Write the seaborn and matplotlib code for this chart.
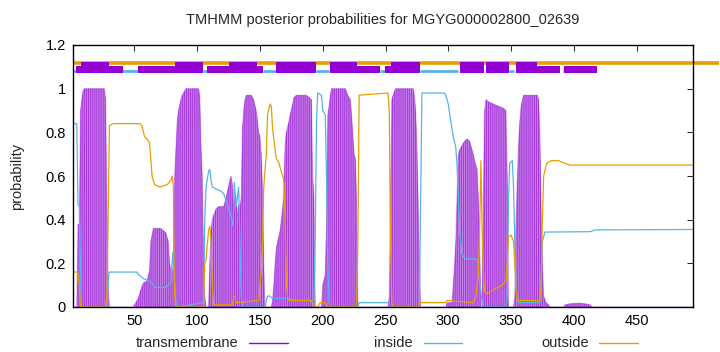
import matplotlib
matplotlib.use("Agg")
import matplotlib.pyplot as plt
from matplotlib.lines import Line2D
from matplotlib.ticker import FormatStrFormatter
import numpy as np
import pandas as pd
import seaborn as sns

seq_len = 495
title = "TMHMM posterior probabilities for MGYG000002800_02639"

# posterior curves, (residue, probability)
inside_pts = [
    (1, 0.84), (4, 0.84), (5, 0.47), (6, 0.46), (7.5, 0.03), (8, 0.0), (28, 0.0),
    (29.5, 0.15), (30, 0.16), (52, 0.16), (53, 0.15), (57, 0.13), (62, 0.12),
    (64, 0.11), (66, 0.09), (75, 0.09), (79, 0.11), (80.5, 0.25), (81, 0.2),
    (82, 0.12), (83, 0.02), (84, 0.0), (105, 0.02), (106, 0.4), (107, 0.55),
    (109, 0.62), (110, 0.63), (111, 0.58), (112, 0.55), (115, 0.54), (119, 0.53),
    (121, 0.52), (124, 0.47), (127, 0.41), (128.5, 0.37), (129.5, 0.57),
    (131, 0.46), (133, 0.55), (134, 0.3), (135, 0.05), (136, 0.0), (154, 0.0),
    (156, 0.05), (158, 0.05), (160, 0.04), (170, 0.04), (180, 0.03), (193, 0.03),
    (194, 0.3), (195, 0.85), (196, 0.98), (199, 0.97), (200, 0.9), (202, 0.88),
    (203, 0.6), (204, 0.2), (205, 0.02), (206, 0.0), (228, 0.0), (229, 0.02),
    (252, 0.02), (254, 0.0), (277, 0.0), (278, 0.5), (279, 0.98), (297, 0.98),
    (298, 0.97), (299, 0.95), (300, 0.93), (302, 0.85), (304, 0.78), (306, 0.73),
    (307, 0.65), (309, 0.35), (311, 0.24), (314, 0.22), (323, 0.22), (325, 0.12),
    (327, 0.02), (328, 0.0), (346, 0.0), (347, 0.05), (348, 0.5), (349, 0.66),
    (351, 0.67), (352, 0.55), (353, 0.3), (354, 0.1), (355, 0.03), (356, 0.02),
    (373, 0.02), (374, 0.15), (375, 0.3), (377, 0.343), (413, 0.345),
    (417, 0.353), (495, 0.355),
]

outside_pts = [
    (1, 0.16), (4.5, 0.16), (5, 0.15), (6, 0.1), (7, 0.0), (27, 0.0), (28, 0.05),
    (29, 0.4), (30, 0.83), (33, 0.84), (54, 0.84), (56, 0.83), (58, 0.78),
    (60, 0.77), (62, 0.75), (64, 0.6), (66, 0.56), (70, 0.55), (76, 0.56),
    (79, 0.58), (80, 0.6), (81, 0.55), (81.5, 0.2), (82, 0.05), (83, 0.0),
    (105, 0.0), (106, 0.2), (107, 0.22), (109, 0.35), (110, 0.37), (111, 0.3),
    (112, 0.1), (113, 0.01), (128, 0.01), (129, 0.05), (130, 0.05), (131, 0.02),
    (149, 0.03), (150, 0.1), (151, 0.17), (152, 0.3), (153, 0.55), (155, 0.7),
    (156, 0.88), (158, 0.93), (159, 0.92), (160, 0.82), (162, 0.72), (163, 0.68),
    (165, 0.66), (167, 0.62), (169, 0.58), (170, 0.4), (171, 0.12), (172, 0.04),
    (173, 0.03), (190, 0.03), (192, 0.02), (194, 0.0), (196, 0.0), (198, 0.02),
    (202, 0.02), (204, 0.0), (227, 0.0), (228, 0.3), (229, 0.97), (252, 0.98),
    (253, 0.9), (254, 0.3), (255, 0.02), (256, 0.0), (276, 0.0), (278, 0.02),
    (298, 0.02), (299, 0.03), (320, 0.02), (322, 0.05), (324, 0.15), (325, 0.35),
    (326, 0.67), (327, 0.35), (328, 0.15), (329, 0.07), (331, 0.06), (336, 0.08),
    (343, 0.1), (346, 0.12), (347, 0.2), (348, 0.32), (350, 0.33), (352, 0.3),
    (353, 0.2), (354, 0.07), (355, 0.03), (373, 0.03), (374, 0.1), (375, 0.4),
    (376, 0.6), (378, 0.65), (379, 0.66), (382, 0.67), (388, 0.67), (392, 0.66),
    (397, 0.65), (400, 0.65), (495, 0.65),
]

tm_pts = [
    (1, 0.0), (4, 0.0), (5, 0.38), (6, 0.38), (7, 0.9), (8, 0.95), (9, 0.99),
    (10, 1.0), (26, 1.0), (27, 0.95), (28, 0.5), (29, 0.1), (30, 0.0), (49, 0.0),
    (50, 0.01), (53, 0.04), (55, 0.08), (57, 0.11), (60, 0.12), (62, 0.17),
    (63, 0.3), (65, 0.36), (71, 0.36), (73, 0.35), (75, 0.34), (77, 0.3),
    (78, 0.2), (79, 0.17), (80, 0.15), (81, 0.2), (82, 0.6), (84, 0.85),
    (85, 0.9), (87, 0.95), (88, 0.97), (90, 0.99), (91, 1.0), (101, 1.0),
    (102, 0.97), (103, 0.75), (104, 0.6), (105, 0.25), (106, 0.05), (107, 0.0),
    (109, 0.0), (110, 0.2), (111, 0.35), (112, 0.4), (113, 0.42), (115, 0.45),
    (117, 0.46), (121, 0.46), (123, 0.5), (124, 0.53), (126, 0.58), (127, 0.6),
    (128, 0.56), (129, 0.36), (130, 0.52), (131, 0.5), (132, 0.42), (133, 0.47),
    (134, 0.45), (135, 0.5), (136, 0.82), (137, 0.9), (138, 0.95), (139, 0.97),
    (143, 0.97), (144, 0.96), (145, 0.95), (147, 0.9), (148, 0.85), (149, 0.8),
    (150, 0.78), (151, 0.7), (152, 0.55), (153, 0.2), (154, 0.0), (159, 0.0),
    (160, 0.03), (161, 0.1), (162, 0.2), (163, 0.27), (164, 0.3), (166, 0.35),
    (167, 0.4), (168, 0.45), (169, 0.52), (170, 0.75), (171, 0.8), (173, 0.85),
    (174, 0.88), (176, 0.93), (177, 0.96), (179, 0.97), (187, 0.97), (189, 0.96),
    (191, 0.95), (192, 0.6), (193, 0.5), (194, 0.0), (199, 0.0), (200, 0.1),
    (202, 0.15), (203, 0.4), (204, 0.88), (205, 0.92), (206, 0.97), (207, 1.0),
    (218, 1.0), (220, 0.97), (222, 0.95), (223, 0.88), (225, 0.7), (226, 0.68),
    (227, 0.5), (228, 0.0), (252, 0.0), (253, 0.05), (254, 0.5), (255, 0.95),
    (256, 0.97), (258, 1.0), (272, 1.0), (273, 0.97), (274, 0.9), (275, 0.75),
    (276, 0.5), (277, 0.2), (278, 0.0), (298, 0.0), (299, 0.02), (303, 0.02),
    (304, 0.1), (305, 0.2), (306, 0.3), (307, 0.5), (308, 0.7), (309, 0.72),
    (311, 0.74), (313, 0.76), (315, 0.77), (317, 0.76), (318, 0.74), (320, 0.7),
    (321, 0.67), (323, 0.63), (324, 0.5), (325, 0.3), (326, 0.0), (327, 0.0),
    (328, 0.55), (329, 0.9), (330, 0.95), (332, 0.94), (336, 0.93), (340, 0.92),
    (344, 0.91), (346, 0.9), (347, 0.6), (348, 0.0), (352, 0.0), (353, 0.05),
    (354, 0.4), (356, 0.75), (357, 0.85), (358, 0.92), (360, 0.97), (371, 0.97),
    (372, 0.95), (373, 0.8), (374, 0.45), (375, 0.2), (376, 0.05), (378, 0.02),
    (380, 0.01), (381, 0.0), (392, 0.0), (393, 0.01), (397, 0.015), (405, 0.018),
    (412, 0.012), (415, 0.0), (495, 0.0),
]

# predicted topology strip drawn above the curves (start, end residue)
top_outside = [(1, 516)]
top_inside = [(1, 3.5), (31.5, 52.4), (104.6, 124.8), (152.7, 162.8),
              (194.5, 204.6), (246, 249.4), (277.3, 307.6), (348, 352.7),
              (391.7, 395.8)]
top_tm_low = [(3, 41), (52.4, 104.6), (108, 152.7), (205.6, 246),
              (249.4, 277.3), (353.7, 389), (392.4, 418.7)]
top_tm_high = [(7, 30), (82, 104.6), (125.5, 147.4), (162.8, 194.5),
               (205.6, 227.5), (254.4, 277.3), (309, 328.5), (330.2, 348),
               (353.7, 371)]

ticks_x = [50, 100, 150, 200, 250, 300, 350, 400, 450]
ticks_y = [0, 0.2, 0.4, 0.6, 0.8, 1, 1.2]

C_TM = "#9400d3"
C_IN = "#56b4e9"
C_OUT = "#e69f00"

sns.set_theme(style="white")
plt.rcParams["font.family"] = ["Liberation Sans", "DejaVu Sans"]
plt.rcParams["hatch.linewidth"] = 0.8

inside = pd.DataFrame(inside_pts, columns=["residue", "prob"])
outside = pd.DataFrame(outside_pts, columns=["residue", "prob"])
tm = pd.DataFrame(tm_pts, columns=["residue", "prob"])

fig = plt.figure(figsize=(7.2, 3.52), dpi=100)
ax = fig.add_axes([73 / 720, 1 - 307 / 352, 620 / 720, 262 / 352])

# impulse-style area: light fill plus vertical hatching
ax.fill_between(tm["residue"], 0, tm["prob"], facecolor="#c884ea",
                edgecolor="none", linewidth=0, zorder=1)
ax.fill_between(tm["residue"], 0, tm["prob"], facecolor="none",
                edgecolor="#a63ada", hatch="|" * 8, linewidth=0, zorder=1.5)
sns.lineplot(data=tm, x="residue", y="prob", color=C_TM, alpha=0.3,
             linewidth=0.8, estimator=None, sort=False, ax=ax, zorder=2)
sns.lineplot(data=inside, x="residue", y="prob", color=C_IN, linewidth=0.9,
             estimator=None, sort=False, ax=ax, zorder=3)
sns.lineplot(data=outside, x="residue", y="prob", color=C_OUT, linewidth=0.9,
             estimator=None, sort=False, ax=ax, zorder=3)

# topology strip
for a, b in top_outside:
    ax.plot([a, b], [1.118, 1.118], color=C_OUT, linewidth=2.6,
            solid_capstyle="butt", clip_on=False, zorder=4)
for a, b in top_inside:
    ax.plot([a, b], [1.079, 1.079], color=C_IN, linewidth=2.0,
            solid_capstyle="butt", zorder=5)
ax.broken_barh([(a, b - a) for a, b in top_tm_low], (1.073, 0.032),
               facecolor=C_TM, edgecolor="none", zorder=6)
ax.broken_barh([(a, b - a) for a, b in top_tm_high], (1.073, 0.049),
               facecolor=C_TM, edgecolor="none", zorder=6)

ax.set_xlim(1, seq_len)
ax.set_ylim(0, 1.2)
ax.set_xticks(ticks_x)
ax.set_yticks(ticks_y)
ax.yaxis.set_major_formatter(FormatStrFormatter("%g"))
ax.tick_params(direction="in", length=4, width=0.6, top=True, right=True,
               labelsize=10.5, colors="black", pad=5)
for s in ax.spines.values():
    s.set_color("black")
    s.set_linewidth(1.0)
    s.set_zorder(7)
ax.set_xlabel("")
ax.set_ylabel("probability", fontsize=10.5)
ax.yaxis.set_label_coords(-(73 - 24) / 620, 0.5)

fig.text(383 / 720, 1 - 20 / 352, title, ha="center", va="center", fontsize=10.5)

# key below the axes
key = [("transmembrane", C_TM, 238, 249, 288),
       ("inside", C_IN, 413, 424, 462),
       ("outside", C_OUT, 589, 599, 638)]
ky = 1 - 343 / 352
for label, col, tx, x0, x1 in key:
    fig.text(tx / 720, ky, label, ha="right", va="center", fontsize=10.5)
    fig.add_artist(Line2D([x0 / 720, x1 / 720], [ky, ky], color=col,
                          linewidth=1.0, transform=fig.transFigure))

fig.savefig("out.png", dpi=100)
